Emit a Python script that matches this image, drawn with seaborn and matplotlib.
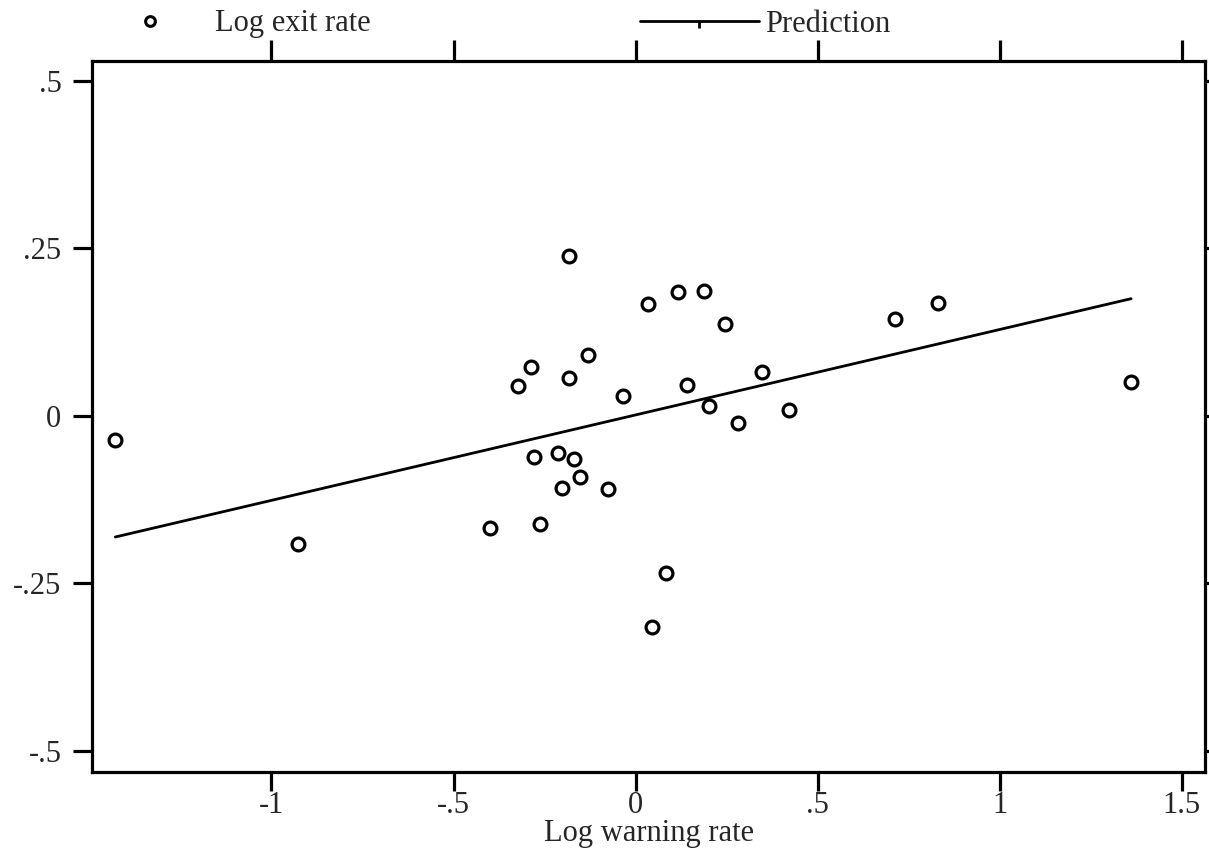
import matplotlib
matplotlib.use("Agg")
import matplotlib.pyplot as plt
from matplotlib.lines import Line2D
import seaborn as sns
import pandas as pd

# Observed log exit rate against log warning rate
log_warning = [-1.429, -0.927, -0.400, -0.322, -0.287, -0.278, -0.263, -0.212,
               -0.203, -0.183, -0.183, -0.168, -0.153, -0.130, -0.075, -0.035,
               0.035, 0.044, 0.084, 0.117, 0.142, 0.189, 0.202, 0.246,
               0.282, 0.348, 0.421, 0.713, 0.831, 1.361]
log_exit = [-0.036, -0.192, -0.167, 0.045, 0.073, -0.062, -0.162, -0.055,
            -0.108, 0.238, 0.056, -0.065, -0.092, 0.091, -0.109, 0.030,
            0.167, -0.316, -0.235, 0.185, 0.046, 0.187, 0.014, 0.137,
            -0.011, 0.066, 0.009, 0.145, 0.169, 0.051]

# Fitted prediction line over the observed range
pred_x = [-1.429, 1.361]
pred_y = [-0.181, 0.175]

x_ticks = [-1, -0.5, 0, 0.5, 1, 1.5]
x_tick_labels = ["-1", "-.5", "0", ".5", "1", "1.5"]
y_ticks = [-0.5, -0.25, 0, 0.25, 0.5]
y_tick_labels = ["-.5", "-.25", "0", ".25", ".5"]

sns.set_theme(style="ticks")
plt.rcParams["font.family"] = ["Liberation Serif", "DejaVu Serif"]

FS = 22
LW = 2.3

fig = plt.figure(figsize=(12.09, 8.5), dpi=100)
ax = fig.add_axes([92 / 1209, 1 - 772 / 850, (1205 - 92) / 1209, (772 - 61) / 850])

pts = pd.DataFrame({"warning": log_warning, "exit": log_exit})
pred = pd.DataFrame({"warning": pred_x, "prediction": pred_y})

sns.lineplot(data=pred, x="warning", y="prediction", ax=ax, color="black",
             linewidth=2.0, legend=False)
sns.scatterplot(data=pts, x="warning", y="exit", ax=ax, marker="o", s=85,
                facecolor="white", edgecolor="black", linewidth=2.3,
                legend=False, zorder=3)

ax.set_xlim(-1.493, 1.564)
ax.set_ylim(-0.532, 0.530)

ax.set_xticks(x_ticks)
ax.set_xticklabels(x_tick_labels)
ax.set_yticks(y_ticks)
ax.set_yticklabels(y_tick_labels)

for side in ["left", "right", "top", "bottom"]:
    ax.spines[side].set_visible(True)
    ax.spines[side].set_linewidth(LW)
    ax.spines[side].set_color("black")

ax.tick_params(axis="x", which="both", direction="out", length=13.5, width=LW,
               color="black", labelsize=FS, pad=0, top=True, labeltop=False)
ax.tick_params(axis="y", which="both", direction="out", length=14, width=LW,
               color="black", labelsize=FS, pad=8, right=True, labelright=False)
for t in ax.yaxis.get_ticklines():
    if t.get_marker() == 1:  # right-hand ticks are short
        t.set_markersize(3)
for t in ax.xaxis.get_ticklines():
    if t.get_marker() == 2:  # top ticks
        t.set_markersize(15)

ax.set_xlabel("Log warning rate", fontsize=FS, labelpad=-0.5)
ax.set_ylabel("")
ax.grid(False)

handles = [
    Line2D([], [], linestyle="none", marker="o", markersize=7,
           markerfacecolor="white", markeredgecolor="black", markeredgewidth=2.2),
    Line2D([], [], color="black", linewidth=2.0, marker=3, markersize=5,
           markeredgewidth=2.0),
]
fig.legend(handles, ["Log exit rate", "Prediction"], ncol=2, frameon=False,
           loc="center left", bbox_to_anchor=(90 / 1209, 1 - 24 / 850),
           fontsize=FS, handlelength=3.9, handletextpad=0.2,
           columnspacing=8.8, borderpad=0, borderaxespad=0, numpoints=1)

fig.savefig("out.png", dpi=100, facecolor="white")
